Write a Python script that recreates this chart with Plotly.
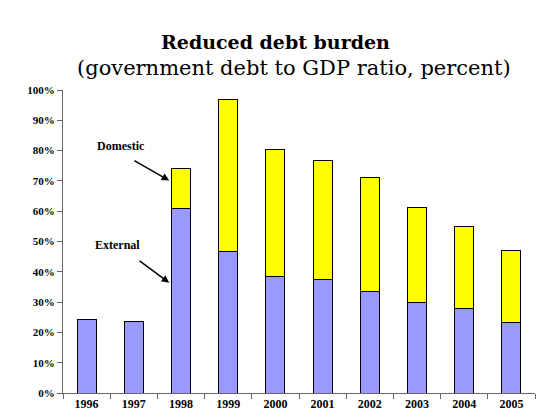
import plotly.graph_objects as go

years = ["1996", "1997", "1998", "1999", "2000", "2001", "2002", "2003", "2004", "2005"]
external = [24.4, 23.5, 61.0, 46.7, 38.6, 37.6, 33.5, 30.0, 27.8, 23.3]
domestic = [0, 0, 13.2, 50.3, 41.6, 39.0, 37.5, 31.3, 27.0, 23.6]
y_ticks = [0, 10, 20, 30, 40, 50, 60, 70, 80, 90, 100]

title = "Reduced debt burden"
subtitle = "(government debt to GDP ratio, percent)"

serif = "Liberation Serif"
title_font = "DejaVu Serif"

fig = go.Figure()
fig.add_trace(go.Bar(x=years, y=external, name="External",
                     marker=dict(color="#9999FF", line=dict(color="black", width=1))))
fig.add_trace(go.Bar(x=years, y=domestic, name="Domestic",
                     marker=dict(color="#FFFF00", line=dict(color="black", width=1))))

fig.update_layout(
    width=536, height=419,
    barmode="stack", bargap=0.6,
    showlegend=False,
    plot_bgcolor="white", paper_bgcolor="white",
    margin=dict(l=63, r=1, t=90, b=26),
    font=dict(family=serif, color="black"),
)
fig.update_xaxes(
    type="category", showline=True, linecolor="#666", linewidth=1,
    ticks="outside", tickson="boundaries", ticklen=5, tickcolor="#666",
    tickfont=dict(family=serif, size=12, color="black", weight="bold"),
    range=[-0.5, 9.5],
)
fig.update_yaxes(
    range=[0, 100], tickvals=y_ticks, ticktext=[f"{v}%" for v in y_ticks],
    showline=True, linecolor="#666", linewidth=1, showgrid=False, zeroline=False,
    ticks="outside", ticklen=5, tickcolor="#666",
    tickfont=dict(family=serif, size=11, color="black", weight="bold"),
)

# Title and subtitle
fig.add_annotation(text=f"<b>{title}</b>", xref="paper", yref="paper",
                   x=0.451, y=1, yanchor="middle", yshift=48, showarrow=False,
                   font=dict(family=title_font, size=19, color="black"))
fig.add_annotation(text=subtitle, xref="paper", yref="paper",
                   x=0.49, y=1, yanchor="middle", yshift=22, showarrow=False,
                   font=dict(family=title_font, size=21, color="black"))

# Labels with arrows
fig.add_annotation(text="<b>Domestic</b>", x=0.73, y=81.4, showarrow=False,
                   font=dict(family=serif, size=12, color="black"))
fig.add_annotation(text="", x=1.75, y=70.1, ax=0.98, ay=77.0, axref="x", ayref="y",
                   showarrow=True, arrowhead=2, arrowsize=1, arrowwidth=1.5, arrowcolor="black")
fig.add_annotation(text="<b>External</b>", x=0.655, y=48.7, showarrow=False,
                   font=dict(family=serif, size=12, color="black"))
fig.add_annotation(text="", x=1.75, y=36.4, ax=1.09, ay=44.0, axref="x", ayref="y",
                   showarrow=True, arrowhead=2, arrowsize=1, arrowwidth=1.5, arrowcolor="black")

fig.write_html("out.html")
